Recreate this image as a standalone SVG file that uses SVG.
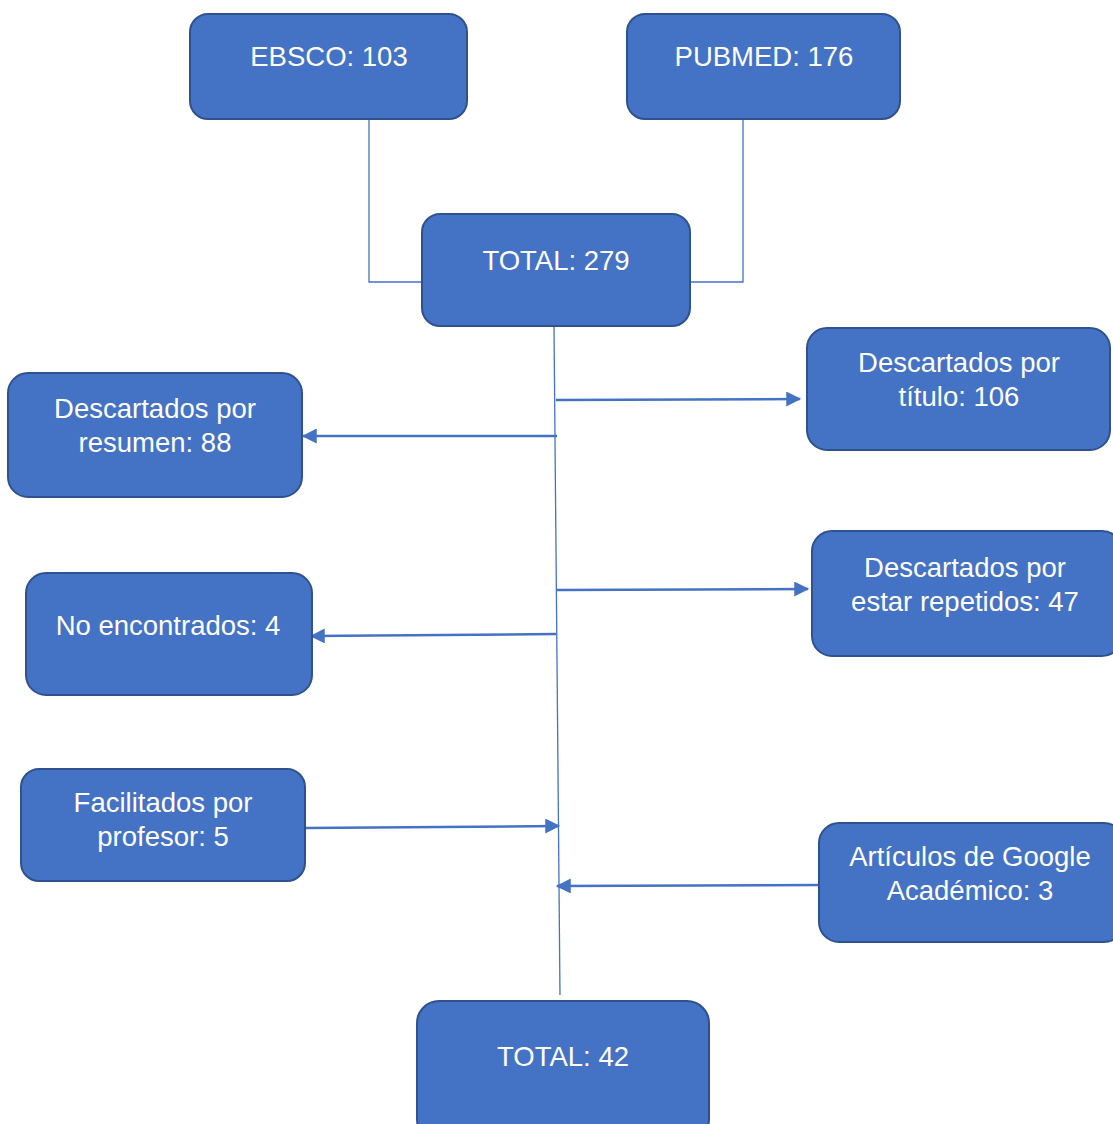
<svg xmlns="http://www.w3.org/2000/svg" width="1113" height="1124" viewBox="0 0 1113 1124">
<style>
.box{fill:#4472C4;stroke:#2F528F;stroke-width:2}
.t{font-family:"Liberation Sans",Arial,sans-serif;font-size:27.5px;fill:#fff;text-anchor:middle}
.thin{fill:none;stroke:#4472C4;stroke-width:1.3}
.arr{fill:none;stroke:#4472C4;stroke-width:2.5;marker-end:url(#ah)}
</style>
<defs>
<marker id="ah" markerWidth="6" markerHeight="6" refX="5.5" refY="3" orient="auto" markerUnits="strokeWidth">
<path d="M0,0 L6,3 L0,6 Z" fill="#4472C4"/>
</marker>
</defs>
<rect width="1113" height="1124" fill="#fff"/>
<g id="connectors">
<polyline class="thin" points="369,119 369,282 422,282"/>
<polyline class="thin" points="743,119 743,282 690,282"/>
<line class="thin" x1="554" y1="326" x2="560" y2="995"/>
<line class="arr" x1="556" y1="400" x2="800" y2="399"/>
<line class="arr" x1="557" y1="436" x2="303" y2="436"/>
<line class="arr" x1="557" y1="590" x2="808" y2="589"/>
<line class="arr" x1="556" y1="634" x2="311" y2="636"/>
<line class="arr" x1="305" y1="828" x2="559" y2="826"/>
<line class="arr" x1="819" y1="885" x2="557" y2="886"/>
</g>
<g id="ebsco"><rect class="box" x="190" y="14" width="277" height="105" rx="18"/><text class="t" x="329" y="65.5">EBSCO: 103</text></g>
<g id="pubmed"><rect class="box" x="627" y="14" width="273" height="105" rx="18"/><text class="t" x="764" y="65.5">PUBMED: 176</text></g>
<g id="total279"><rect class="box" x="422" y="214" width="268" height="112" rx="18"/><text class="t" x="556" y="269.5">TOTAL: 279</text></g>
<g id="titulo"><rect class="box" x="807" y="328" width="303" height="122" rx="20"/><text class="t" x="959" y="371.5">Descartados por</text><text class="t" x="959" y="405.5">título: 106</text></g>
<g id="resumen"><rect class="box" x="8" y="373" width="294" height="124" rx="20"/><text class="t" x="155" y="417.5">Descartados por</text><text class="t" x="155" y="451.5">resumen: 88</text></g>
<g id="repetidos"><rect class="box" x="812" y="531" width="310" height="125" rx="20"/><text class="t" x="965" y="576.5">Descartados por</text><text class="t" x="965" y="610.5">estar repetidos: 47</text></g>
<g id="noencontrados"><rect class="box" x="26" y="573" width="286" height="122" rx="20"/><text class="t" x="168" y="634.5">No encontrados: 4</text></g>
<g id="profesor"><rect class="box" x="21" y="769" width="284" height="112" rx="18"/><text class="t" x="163" y="811.5">Facilitados por</text><text class="t" x="163" y="845.5">profesor: 5</text></g>
<g id="google"><rect class="box" x="819" y="823" width="305" height="119" rx="20"/><text class="t" x="970" y="865.5">Artículos de Google</text><text class="t" x="970" y="899.5">Académico: 3</text></g>
<g id="total42"><rect class="box" x="417" y="1001" width="292" height="140" rx="22"/><text class="t" x="563" y="1065.5">TOTAL: 42</text></g>
</svg>
